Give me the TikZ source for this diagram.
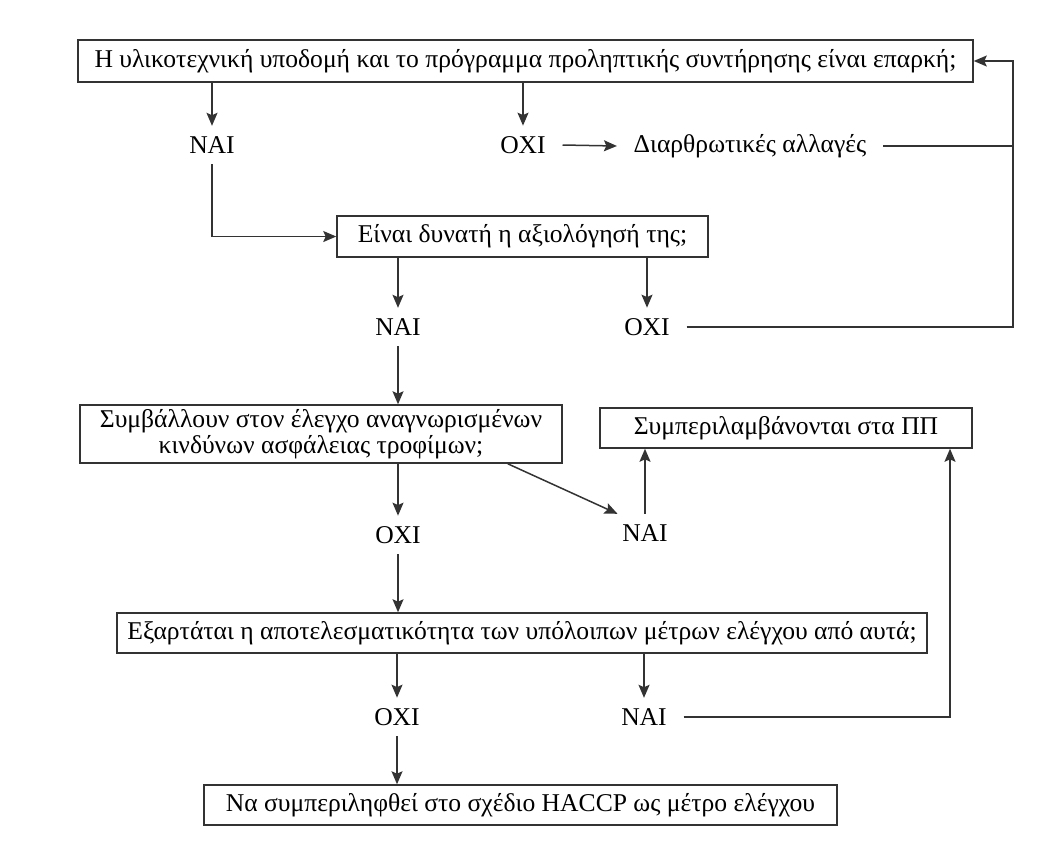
\documentclass[tikz,border=0pt]{standalone}
\usepackage{fontspec}
\setmainfont{Liberation Serif}
\usetikzlibrary{arrows.meta,positioning,calc}

\tikzset{
  qbox/.style={draw, inner sep=2pt, align=center},
  ans/.style={inner xsep=8pt, inner ysep=5pt},
  >={Stealth[length=6.5pt,width=5.5pt,inset=1.2pt]}
}

\begin{document}
\begin{tikzpicture}[x=0.5pt,y=-0.5pt,line width=0.75pt,draw=black!80,
  font=\fontsize{12.8}{12.8}\selectfont]
\useasboundingbox (0,0) rectangle (1058,848);

% questions
\node[qbox, minimum width=447.5pt, minimum height=21pt] (q1) at (525.5,61)
  {Η υλικοτεχνική υποδομή και το πρόγραμμα προληπτικής συντήρησης είναι επαρκή;};
\node[qbox, minimum width=185.5pt, minimum height=20.5pt] (q2) at (522.5,236.5)
  {Είναι δυνατή η αξιολόγησή της;};
\node[qbox, minimum width=241pt, minimum height=29pt] (q3) at (321,434)
  {Συμβάλλουν στον έλεγχο αναγνωρισμένων\\κινδύνων ασφάλειας τροφίμων;};
\node[qbox, minimum width=186pt, minimum height=20pt] (incl) at (786,428)
  {Συμπεριλαμβάνονται στα ΠΠ};
\node[qbox, minimum width=405pt, minimum height=20pt] (q4) at (522,633)
  {Εξαρτάται η αποτελεσματικότητα των υπόλοιπων μέτρων ελέγχου από αυτά;};
\node[qbox, minimum width=316.5pt, minimum height=20pt] (haccp) at (520.5,805)
  {Να συμπεριληφθεί στο σχέδιο HACCP ως μέτρο ελέγχου};

% answers
\node[ans] (nai1) at (212,145) {ΝΑΙ};
\node[ans] (oxi1) at (523,145) {ΟΧΙ};
\node[ans] (changes) at (750,146) {Διαρθρωτικές αλλαγές};
\node[ans] (nai2) at (398,327) {ΝΑΙ};
\node[ans] (oxi2) at (647,327) {ΟΧΙ};
\node[ans] (oxi3) at (398,535) {ΟΧΙ};
\node[ans] (nai3) at (645,533) {ΝΑΙ};
\node[ans] (oxi4) at (397,717) {ΟΧΙ};
\node[ans] (nai4) at (644,717) {ΝΑΙ};

\coordinate (rtop) at (1013,61);
\coordinate (rlow) at (950,717);

% connectors
\draw[->] (nai1 |- q1.south) -- (nai1.north);
\draw[->] (oxi1 |- q1.south) -- (oxi1.north);
\draw[->] (oxi1.east) -- (changes.west);
\draw (changes.east) -- (changes.east -| rtop);
\draw[->] (oxi2.east) -- (oxi2.east -| rtop) -- (rtop) -- (q1.east);
\draw[->] (nai1.south) -- (nai1 |- q2.west) -- (q2.west);

\draw[->] (nai2 |- q2.south) -- (nai2.north);
\draw[->] (oxi2 |- q2.south) -- (oxi2.north);
\draw[->] (nai2.south) -- (nai2 |- q3.north);

\draw[->] (oxi3 |- q3.south) -- (oxi3.north);
\draw[->] ([xshift=-27.5pt]q3.south east) -- ([xshift=6pt]nai3.north west);
\draw[->] (nai3.north) -- (nai3 |- incl.south);
\draw[->] (oxi3.south) -- (oxi3 |- q4.north);

\draw[->] (oxi4 |- q4.south) -- (oxi4.north);
\draw[->] (nai4 |- q4.south) -- (nai4.north);
\draw[->] (nai4.east) -- (nai4.east -| rlow) -- (rlow |- incl.south);
\draw[->] (oxi4.south) -- (oxi4 |- haccp.north);
\end{tikzpicture}
\end{document}
